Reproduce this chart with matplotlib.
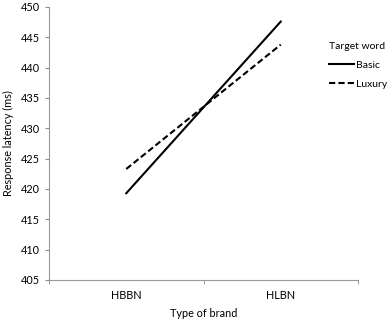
import matplotlib.pyplot as plt

plt.rcParams['font.family'] = ['Lato', 'DejaVu Sans']

brands = ['HBBN', 'HLBN']
basic = [419.3, 447.6]
luxury = [423.3, 443.8]
yticks = [405, 410, 415, 420, 425, 430, 435, 440, 445, 450]

fig = plt.figure(figsize=(3.88, 3.19), dpi=100)
ax = fig.add_axes([49/388, 1 - 280/319, 309/388, 273/319])

x = list(range(len(brands)))
ax.plot(x, basic, color='black', lw=1.5, label='Basic')
ax.plot(x, luxury, color='black', lw=1.5, ls=(0, (3, 1.5)), label='Luxury')

ax.set_xlim(-0.5, 1.5)
ax.set_ylim(405, 450)
ax.set_yticks(yticks)
ax.set_xticks(x)
ax.set_xticklabels(brands)
ax.set_xticks([-0.5, 0.5, 1.5], minor=True)
ax.tick_params(axis='x', which='major', length=0, pad=7, labelsize=7.8)
ax.tick_params(axis='x', which='minor', length=3, color='#888888', direction='out')
ax.tick_params(axis='y', length=3, color='#888888', direction='out', labelsize=7.8)

for s in ['top', 'right']:
    ax.spines[s].set_visible(False)
for s in ['left', 'bottom']:
    ax.spines[s].set_color('#999999')
    ax.spines[s].set_linewidth(0.8)

ax.set_ylabel('Response latency (ms)', fontsize=7.8, labelpad=5)
ax.set_xlabel('Type of brand', fontsize=7.8, labelpad=5)

leg = fig.legend(loc='upper left', bbox_to_anchor=(320/388, 1 - 33/319),
                 title='Target word', frameon=False, fontsize=7.5,
                 title_fontsize=7.5, handlelength=2.4, handletextpad=0.15,
                 labelspacing=0.9)
leg._legend_box.align = 'left'

fig.savefig('out.png', dpi=100)
